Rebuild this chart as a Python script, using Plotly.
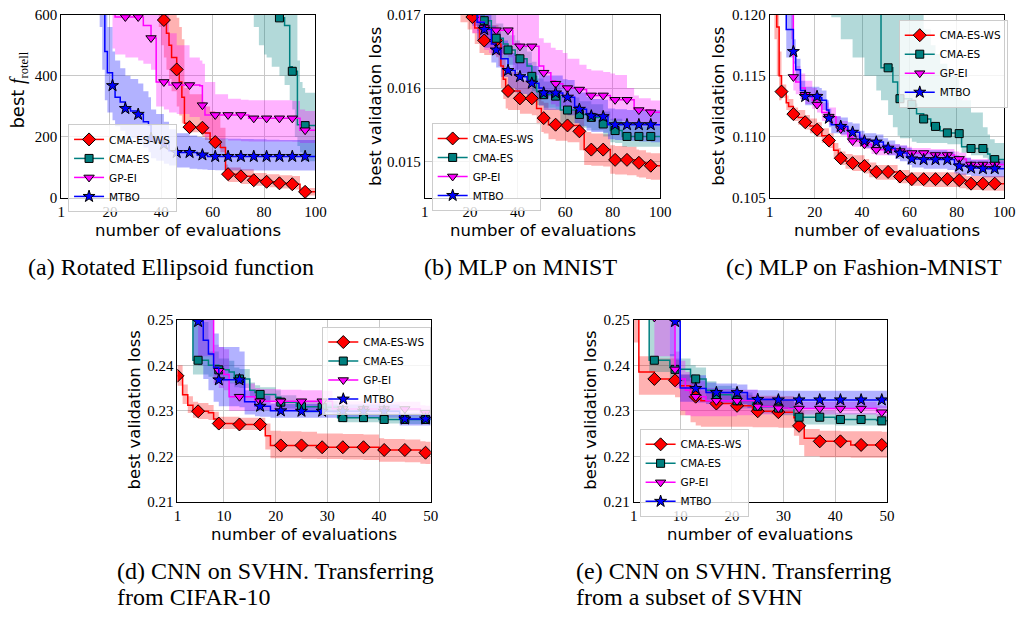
import plotly.graph_objects as go

# ---------------- data ----------------
MARKS_100 = [1, 6, 11, 16, 21, 26, 31, 36, 41, 46, 51, 56, 61, 66, 71, 76, 81, 86, 91, 96]
MARKS_50 = [1, 5, 9, 13, 17, 21, 25, 29, 33, 37, 41, 45, 49]

# (a) Rotated Ellipsoid
A_WS_X = [1, 6, 11, 16, 21, 26, 31, 36, 39, 40, 41, 42, 43, 44, 46, 47, 48, 49, 51, 56, 57, 59, 61, 63, 65, 66, 71, 76, 81, 86, 91, 94, 96, 100]
A_WS_Y = [3000, 2500, 2100, 1800, 1500, 1250, 1000, 800, 680, 620, 583, 540, 500, 460, 421, 380, 330, 245, 232, 230, 213, 192, 183, 165, 92, 78, 71, 58, 53, 48, 45, 20, 20, 18]
A_WS_LO = [2500, 2100, 1800, 1500, 1200, 1000, 850, 700, 560, 500, 460, 420, 390, 350, 300, 270, 245, 225, 215, 200, 190, 178, 165, 150, 70, 52, 46, 40, 35, 31, 28, 10, 8, 7]
A_WS_HI = [3500, 3000, 2500, 2200, 1800, 1500, 1200, 950, 800, 760, 720, 690, 660, 630, 590, 560, 520, 360, 340, 315, 300, 285, 272, 230, 110, 100, 94, 82, 78, 74, 72, 35, 33, 32]

A_ES_X = [1, 6, 11, 16, 21, 26, 31, 36, 41, 46, 51, 56, 61, 66, 71, 73, 76, 78, 80, 81, 83, 86, 88, 90, 91, 92, 93, 94, 95, 96, 100]
A_ES_Y = [9000, 8000, 7000, 6000, 5000, 4200, 3600, 3100, 2600, 2200, 1900, 1600, 1350, 1150, 1000, 950, 880, 820, 760, 740, 700, 590, 565, 430, 415, 415, 240, 240, 238, 237, 237]
A_ES_LO = [7000, 6000, 5000, 4000, 3000, 2500, 2000, 1600, 1300, 1000, 850, 760, 700, 650, 610, 600, 560, 500, 470, 460, 430, 400, 370, 320, 290, 200, 170, 150, 130, 120, 110]
A_ES_HI = [12000, 10000, 9000, 8000, 7000, 6000, 5000, 4500, 4000, 3500, 3000, 2600, 2200, 1900, 1700, 1600, 1500, 1400, 1300, 1250, 1150, 1000, 900, 800, 760, 720, 450, 380, 360, 345, 340]

A_GP_X = [1, 6, 11, 16, 21, 22, 26, 31, 33, 36, 38, 41, 43, 46, 51, 55, 56, 57, 61, 66, 71, 74, 76, 81, 86, 91, 94, 96, 100]
A_GP_Y = [3000, 2000, 1400, 900, 640, 593, 593, 593, 565, 524, 380, 380, 370, 370, 370, 368, 304, 272, 272, 272, 272, 261, 261, 261, 261, 261, 222, 222, 222]
A_GP_LO = [2000, 1400, 1000, 700, 490, 470, 460, 450, 440, 420, 300, 290, 280, 275, 265, 255, 230, 200, 192, 188, 186, 185, 185, 185, 185, 184, 180, 180, 180]
A_GP_HI = [4000, 3000, 2000, 1400, 900, 800, 760, 720, 700, 680, 640, 600, 540, 500, 460, 450, 440, 380, 340, 325, 322, 320, 320, 320, 320, 318, 290, 285, 280]

A_MT_X = [1, 6, 11, 16, 17, 18, 19, 21, 22, 24, 26, 28, 31, 33, 35, 36, 38, 41, 43, 46, 51, 54, 56, 58, 61, 66, 71, 76, 81, 86, 91, 96, 100]
A_MT_Y = [3000, 1800, 1200, 800, 620, 480, 410, 368, 330, 314, 293, 285, 274, 250, 240, 195, 190, 176, 155, 149, 149, 141, 141, 136, 136, 136, 136, 136, 136, 136, 136, 136, 136]
A_MT_LO = [2000, 1200, 800, 560, 420, 320, 280, 255, 235, 220, 205, 195, 182, 165, 150, 130, 122, 112, 106, 100, 96, 94, 93, 92, 91, 90, 90, 90, 90, 90, 90, 90, 90]
A_MT_HI = [4000, 2400, 1600, 1000, 800, 650, 560, 480, 450, 425, 400, 390, 375, 350, 330, 290, 275, 250, 225, 212, 205, 200, 198, 196, 195, 194, 193, 192, 191, 190, 190, 190, 190]

# (b) MLP on MNIST
B_WS_X = [1, 6, 11, 16, 19, 21, 22, 24, 26, 31, 32, 33, 34, 35, 36, 41, 46, 48, 50, 51, 53, 56, 61, 66, 68, 71, 76, 79, 81, 86, 90, 91, 94, 96, 100]
B_WS_Y = [0.0185, 0.0180, 0.0176, 0.01725, 0.01705, 0.01697, 0.01682, 0.01668, 0.01665, 0.01665, 0.01660, 0.01630, 0.01612, 0.01598, 0.01596, 0.01586, 0.01586, 0.01572, 0.01559, 0.01559, 0.01550, 0.01550, 0.01549, 0.01541, 0.01516, 0.01516, 0.01516, 0.01502, 0.01502, 0.01502, 0.01498, 0.01498, 0.01494, 0.01494, 0.01494]
B_WS_LO = [0.0180, 0.0175, 0.0171, 0.01690, 0.01680, 0.01675, 0.01660, 0.01648, 0.01645, 0.01642, 0.01630, 0.01600, 0.01585, 0.01572, 0.01570, 0.01565, 0.01563, 0.01550, 0.01540, 0.01538, 0.01530, 0.01528, 0.01526, 0.01515, 0.01495, 0.01494, 0.01493, 0.01483, 0.01482, 0.01481, 0.01479, 0.01478, 0.01476, 0.01475, 0.01474]
B_WS_HI = [0.0190, 0.0185, 0.0181, 0.01760, 0.01730, 0.01720, 0.01705, 0.01690, 0.01686, 0.01686, 0.01682, 0.01660, 0.01640, 0.01625, 0.01622, 0.01610, 0.01608, 0.01595, 0.01582, 0.01580, 0.01572, 0.01571, 0.01570, 0.01565, 0.01540, 0.01538, 0.01537, 0.01522, 0.01521, 0.01520, 0.01516, 0.01515, 0.01512, 0.01511, 0.01510]

B_ES_X = [1, 6, 11, 16, 21, 23, 26, 29, 31, 34, 36, 39, 41, 44, 46, 48, 51, 56, 58, 61, 66, 71, 76, 79, 81, 84, 86, 91, 96, 100]
B_ES_Y = [0.0185, 0.0180, 0.0176, 0.01730, 0.01712, 0.01698, 0.01692, 0.01680, 0.01668, 0.01660, 0.01652, 0.01645, 0.01640, 0.01630, 0.01616, 0.01595, 0.01591, 0.01589, 0.01570, 0.01570, 0.01564, 0.01560, 0.01551, 0.01542, 0.01542, 0.01534, 0.01534, 0.01534, 0.01534, 0.01534]
B_ES_LO = [0.0180, 0.0175, 0.0171, 0.01705, 0.01690, 0.01678, 0.01672, 0.01660, 0.01648, 0.01640, 0.01632, 0.01625, 0.01620, 0.01610, 0.01596, 0.01577, 0.01573, 0.01571, 0.01553, 0.01552, 0.01546, 0.01542, 0.01534, 0.01526, 0.01525, 0.01520, 0.01520, 0.01520, 0.01520, 0.01520]
B_ES_HI = [0.0190, 0.0185, 0.0181, 0.01760, 0.01735, 0.01720, 0.01712, 0.01700, 0.01688, 0.01680, 0.01672, 0.01665, 0.01660, 0.01650, 0.01636, 0.01613, 0.01609, 0.01607, 0.01588, 0.01587, 0.01582, 0.01578, 0.01568, 0.01558, 0.01558, 0.01549, 0.01549, 0.01548, 0.01548, 0.01548]

B_GP_X = [1, 6, 11, 16, 21, 24, 26, 28, 31, 36, 38, 41, 46, 49, 51, 54, 56, 59, 61, 66, 69, 71, 76, 79, 81, 86, 89, 91, 96, 100]
B_GP_Y = [0.0185, 0.0180, 0.0176, 0.01730, 0.01705, 0.01690, 0.01682, 0.01679, 0.01679, 0.01679, 0.01660, 0.01657, 0.01657, 0.01630, 0.01621, 0.01610, 0.01606, 0.01601, 0.01600, 0.01598, 0.01591, 0.01590, 0.01590, 0.01584, 0.01584, 0.01584, 0.01571, 0.01570, 0.01567, 0.01566]
B_GP_LO = [0.0180, 0.0175, 0.0171, 0.01700, 0.01675, 0.01660, 0.01652, 0.01648, 0.01645, 0.01642, 0.01625, 0.01620, 0.01618, 0.01595, 0.01588, 0.01578, 0.01575, 0.01570, 0.01568, 0.01566, 0.01562, 0.01561, 0.01560, 0.01556, 0.01555, 0.01554, 0.01550, 0.01549, 0.01548, 0.01548]
B_GP_HI = [0.0190, 0.0185, 0.0181, 0.01770, 0.01740, 0.01725, 0.01718, 0.01715, 0.01712, 0.01710, 0.01705, 0.01702, 0.01700, 0.01668, 0.01662, 0.01655, 0.01652, 0.01648, 0.01640, 0.01632, 0.01626, 0.01624, 0.01622, 0.01620, 0.01618, 0.01600, 0.01590, 0.01586, 0.01583, 0.01582]

B_MT_X = [1, 6, 11, 16, 21, 23, 26, 29, 31, 33, 36, 39, 41, 44, 46, 49, 51, 56, 59, 61, 64, 66, 69, 71, 76, 78, 81, 86, 91, 96, 100]
B_MT_Y = [0.0185, 0.0180, 0.0176, 0.01730, 0.01710, 0.01690, 0.01680, 0.01660, 0.01652, 0.01640, 0.01624, 0.01618, 0.016156, 0.01610, 0.016067, 0.01600, 0.015933, 0.015933, 0.01588, 0.015876, 0.01575, 0.01571, 0.01565, 0.01562, 0.01561, 0.01550, 0.01550, 0.01550, 0.01550, 0.01550, 0.01550]
B_MT_LO = [0.0180, 0.0175, 0.0171, 0.01700, 0.01685, 0.01665, 0.01655, 0.01635, 0.01628, 0.01615, 0.01600, 0.01594, 0.01592, 0.01586, 0.01583, 0.01576, 0.01570, 0.01570, 0.01565, 0.01563, 0.01552, 0.01548, 0.01542, 0.01540, 0.01539, 0.01530, 0.01529, 0.01528, 0.01527, 0.01526, 0.01526]
B_MT_HI = [0.0190, 0.0185, 0.0181, 0.01760, 0.01735, 0.01715, 0.01705, 0.01685, 0.01676, 0.01665, 0.01648, 0.01642, 0.01640, 0.01634, 0.01630, 0.01624, 0.01617, 0.01617, 0.01612, 0.01611, 0.01598, 0.01594, 0.01588, 0.01585, 0.01584, 0.01572, 0.01571, 0.01570, 0.01570, 0.01570, 0.01570]

# (c) MLP on Fashion-MNIST
C_WS_X = [1, 3, 4, 5, 6, 8, 9, 11, 13, 16, 18, 21, 23, 26, 28, 30, 31, 33, 36, 41, 43, 46, 51, 55, 56, 60, 61, 66, 71, 76, 81, 84, 86, 91, 96, 100]
C_WS_Y = [0.1400, 0.1220, 0.1190, 0.1150, 0.11371, 0.1128, 0.1125, 0.11187, 0.1116, 0.1112, 0.1109, 0.11059, 0.1101, 0.10971, 0.1089, 0.1085, 0.10825, 0.1080, 0.10785, 0.10761, 0.1073, 0.10713, 0.10713, 0.10676, 0.10676, 0.10654, 0.10654, 0.10654, 0.10654, 0.10654, 0.10646, 0.10617, 0.10617, 0.10617, 0.10617, 0.10617]
C_WS_LO = [0.1300, 0.1180, 0.1150, 0.1130, 0.11320, 0.1122, 0.1119, 0.1113, 0.1110, 0.1106, 0.1103, 0.1100, 0.1095, 0.1091, 0.1083, 0.1079, 0.1077, 0.1074, 0.1072, 0.1070, 0.1067, 0.1065, 0.1065, 0.1062, 0.1062, 0.1060, 0.1060, 0.1059, 0.1059, 0.1059, 0.1058, 0.10570, 0.10565, 0.10562, 0.10560, 0.10560]
C_WS_HI = [0.1500, 0.1260, 0.1230, 0.1170, 0.11430, 0.1134, 0.1131, 0.1124, 0.1122, 0.1118, 0.1115, 0.1112, 0.1107, 0.1103, 0.1095, 0.1091, 0.1088, 0.1086, 0.1085, 0.1082, 0.1079, 0.1077, 0.1077, 0.1073, 0.1073, 0.1071, 0.1071, 0.1071, 0.1071, 0.1071, 0.1070, 0.1068, 0.1068, 0.1068, 0.1068, 0.1068]

C_ES_X = [1, 6, 11, 16, 21, 26, 27, 31, 36, 41, 46, 48, 51, 53, 55, 56, 61, 63, 66, 69, 71, 73, 76, 81, 82, 86, 91, 93, 94, 96, 100]
C_ES_Y = [0.200, 0.180, 0.165, 0.155, 0.145, 0.138, 0.136, 0.132, 0.128, 0.125, 0.1225, 0.11566, 0.11566, 0.1145, 0.11313, 0.11313, 0.11267, 0.1119, 0.11147, 0.1109, 0.11086, 0.1105, 0.11033, 0.11027, 0.1092, 0.10905, 0.10905, 0.1086, 0.1082, 0.10814, 0.10814]
C_ES_LO = [0.170, 0.150, 0.140, 0.132, 0.126, 0.121, 0.1198, 0.1180, 0.1165, 0.1150, 0.1138, 0.1130, 0.1118, 0.1108, 0.1101, 0.1099, 0.1096, 0.1095, 0.1095, 0.1095, 0.1095, 0.1095, 0.1094, 0.1094, 0.1087, 0.1085, 0.1083, 0.1081, 0.1079, 0.1078, 0.1077]
C_ES_HI = [0.240, 0.220, 0.200, 0.185, 0.170, 0.160, 0.158, 0.150, 0.145, 0.140, 0.135, 0.130, 0.128, 0.126, 0.124, 0.123, 0.1210, 0.1200, 0.1188, 0.1175, 0.1168, 0.1160, 0.1150, 0.1140, 0.1130, 0.1120, 0.1108, 0.1102, 0.1098, 0.1095, 0.1094]

C_GP_X = [1, 6, 10, 11, 12, 14, 16, 19, 21, 23, 26, 29, 31, 34, 36, 41, 44, 46, 51, 56, 59, 61, 66, 69, 71, 76, 79, 81, 84, 86, 91, 96, 100]
C_GP_Y = [0.160, 0.135, 0.1210, 0.11491, 0.1145, 0.1140, 0.11345, 0.1130, 0.11265, 0.1120, 0.11166, 0.1110, 0.11065, 0.1100, 0.10966, 0.1094, 0.1090, 0.10894, 0.10894, 0.10884, 0.1087, 0.10868, 0.10868, 0.10855, 0.10852, 0.10852, 0.1083, 0.1082, 0.10780, 0.10774, 0.10774, 0.10774, 0.10774]
C_GP_LO = [0.150, 0.128, 0.1180, 0.1138, 0.1135, 0.1131, 0.1127, 0.1123, 0.1120, 0.1113, 0.1110, 0.1104, 0.1101, 0.1095, 0.1092, 0.1090, 0.1086, 0.1085, 0.1085, 0.1084, 0.1083, 0.1083, 0.1083, 0.1082, 0.1081, 0.1081, 0.1079, 0.1078, 0.1075, 0.1074, 0.1074, 0.1074, 0.1074]
C_GP_HI = [0.180, 0.145, 0.1240, 0.1162, 0.1158, 0.1152, 0.1146, 0.1140, 0.1136, 0.1128, 0.1124, 0.1117, 0.1113, 0.1106, 0.1102, 0.1099, 0.1095, 0.1094, 0.1094, 0.1093, 0.1092, 0.1091, 0.1091, 0.1090, 0.1090, 0.1090, 0.1088, 0.1087, 0.1083, 0.1082, 0.1082, 0.1082, 0.1082]

C_MT_X = [1, 6, 8, 11, 12, 14, 16, 21, 22, 23, 25, 26, 27, 31, 34, 36, 39, 41, 46, 49, 51, 54, 56, 59, 61, 66, 71, 76, 79, 81, 86, 91, 96, 100]
C_MT_Y = [0.160, 0.130, 0.1188, 0.11699, 0.1155, 0.1138, 0.11331, 0.11331, 0.1132, 0.1130, 0.1122, 0.11153, 0.1110, 0.11086, 0.1105, 0.11038, 0.1099, 0.10966, 0.10958, 0.1093, 0.10908, 0.1088, 0.10868, 0.1084, 0.1082, 0.10814, 0.10814, 0.10814, 0.1078, 0.10761, 0.10745, 0.1074, 0.1074, 0.1074]
C_MT_LO = [0.150, 0.122, 0.1165, 0.1160, 0.1146, 0.1131, 0.1126, 0.1126, 0.1125, 0.1122, 0.1114, 0.1108, 0.1103, 0.1102, 0.1099, 0.1098, 0.1093, 0.1091, 0.1090, 0.1087, 0.1085, 0.1082, 0.1080, 0.1077, 0.1075, 0.1074, 0.1074, 0.1073, 0.1070, 0.1069, 0.1068, 0.1067, 0.1067, 0.1067]
C_MT_HI = [0.180, 0.140, 0.1210, 0.1180, 0.1164, 0.1146, 0.1141, 0.1141, 0.1140, 0.1138, 0.1130, 0.1123, 0.1117, 0.1116, 0.1112, 0.1111, 0.1105, 0.1103, 0.1102, 0.1099, 0.1097, 0.1094, 0.1093, 0.1091, 0.1089, 0.1089, 0.1089, 0.1088, 0.1085, 0.1083, 0.1081, 0.1081, 0.1080, 0.1080]

# (d) CNN on SVHN, transferring from CIFAR-10
D_WS_X = [1, 2, 3, 4, 5, 7, 8, 9, 13, 17, 18, 19, 21, 25, 28, 29, 33, 37, 40, 41, 45, 48, 49, 50]
D_WS_Y = [0.2377, 0.2335, 0.2312, 0.2302, 0.2299, 0.2296, 0.2282, 0.2272, 0.2270, 0.2270, 0.2245, 0.2224, 0.2224, 0.2224, 0.2220, 0.2220, 0.2220, 0.2220, 0.2214, 0.2214, 0.2214, 0.2208, 0.2208, 0.2208]
D_WS_LO = [0.2355, 0.2315, 0.2295, 0.2285, 0.2282, 0.2280, 0.2265, 0.2260, 0.2258, 0.2258, 0.2215, 0.2196, 0.2196, 0.2195, 0.2194, 0.2194, 0.2193, 0.2192, 0.2188, 0.2188, 0.2187, 0.2184, 0.2183, 0.2183]
D_WS_HI = [0.2400, 0.2358, 0.2332, 0.2320, 0.2317, 0.2313, 0.2298, 0.2287, 0.2285, 0.2285, 0.2272, 0.2256, 0.2255, 0.2254, 0.2250, 0.2250, 0.2249, 0.2248, 0.2240, 0.2238, 0.2237, 0.2233, 0.2232, 0.2232]

D_ES_X = [1, 4, 5, 7, 9, 11, 12, 13, 15, 16, 17, 20, 21, 24, 25, 29, 32, 33, 37, 40, 41, 45, 49, 50]
D_ES_Y = [0.2700, 0.2411, 0.2411, 0.2400, 0.2390, 0.2385, 0.2372, 0.2370, 0.2345, 0.2340, 0.2336, 0.2330, 0.2319, 0.2310, 0.2309, 0.2308, 0.2285, 0.2285, 0.2285, 0.2281, 0.2281, 0.2281, 0.2281, 0.2281]
D_ES_LO = [0.2600, 0.2380, 0.2380, 0.2375, 0.2365, 0.2360, 0.2352, 0.2350, 0.2330, 0.2325, 0.2322, 0.2315, 0.2305, 0.2298, 0.2296, 0.2295, 0.2276, 0.2275, 0.2275, 0.2272, 0.2272, 0.2271, 0.2271, 0.2271]
D_ES_HI = [0.2800, 0.2500, 0.2495, 0.2430, 0.2415, 0.2410, 0.2395, 0.2392, 0.2362, 0.2356, 0.2352, 0.2345, 0.2334, 0.2324, 0.2322, 0.2321, 0.2296, 0.2295, 0.2295, 0.2291, 0.2291, 0.2291, 0.2291, 0.2291]

D_GP_X = [1, 5, 7, 8, 9, 10, 11, 13, 16, 17, 21, 25, 29, 31, 33, 37, 41, 45, 48, 49, 50]
D_GP_Y = [0.2700, 0.2505, 0.2505, 0.2395, 0.2388, 0.2380, 0.2331, 0.2331, 0.2322, 0.2321, 0.2321, 0.2321, 0.2321, 0.2305, 0.2304, 0.2304, 0.2304, 0.2304, 0.2297, 0.2296, 0.2296]
D_GP_LO = [0.2600, 0.2420, 0.2420, 0.2360, 0.2350, 0.2345, 0.2300, 0.2300, 0.2302, 0.2302, 0.2302, 0.2302, 0.2302, 0.2292, 0.2291, 0.2291, 0.2291, 0.2290, 0.2286, 0.2285, 0.2285]
D_GP_HI = [0.2800, 0.2600, 0.2600, 0.2445, 0.2440, 0.2435, 0.2362, 0.2360, 0.2350, 0.2348, 0.2346, 0.2345, 0.2344, 0.2322, 0.2321, 0.2320, 0.2320, 0.2320, 0.2312, 0.2311, 0.2311]

D_MT_X = [1, 4, 5, 6, 7, 8, 9, 13, 14, 16, 17, 19, 21, 25, 29, 33, 37, 41, 44, 45, 49, 50]
D_MT_Y = [0.2700, 0.2520, 0.2496, 0.2455, 0.2425, 0.2395, 0.2368, 0.2368, 0.2320, 0.2311, 0.2310, 0.2300, 0.2300, 0.2299, 0.2299, 0.2299, 0.2299, 0.2299, 0.2282, 0.2282, 0.2282, 0.2282]
D_MT_LO = [0.2600, 0.2420, 0.2400, 0.2370, 0.2345, 0.2320, 0.2310, 0.2308, 0.2292, 0.2288, 0.2287, 0.2285, 0.2285, 0.2285, 0.2285, 0.2285, 0.2285, 0.2285, 0.2268, 0.2268, 0.2268, 0.2268]
D_MT_HI = [0.2800, 0.2600, 0.2600, 0.2530, 0.2500, 0.2470, 0.2440, 0.2430, 0.2345, 0.2335, 0.2333, 0.2316, 0.2315, 0.2315, 0.2314, 0.2314, 0.2314, 0.2314, 0.2296, 0.2296, 0.2296, 0.2296]

# (e) CNN on SVHN, transferring from a subset of SVHN
E_WS_X = [1, 2, 5, 9, 10, 12, 13, 14, 17, 21, 24, 25, 29, 32, 33, 34, 37, 41, 43, 45, 49, 50]
E_WS_Y = [0.2550, 0.2385, 0.2370, 0.2367, 0.2355, 0.2340, 0.2331, 0.2322, 0.2316, 0.2311, 0.2300, 0.2299, 0.2297, 0.2285, 0.2267, 0.2240, 0.2233, 0.2233, 0.2225, 0.2225, 0.2225, 0.2225]
E_WS_LO = [0.2450, 0.2335, 0.2335, 0.2330, 0.2290, 0.2275, 0.2268, 0.2265, 0.2265, 0.2265, 0.2264, 0.2264, 0.2263, 0.2245, 0.2225, 0.2200, 0.2198, 0.2198, 0.2197, 0.2197, 0.2197, 0.2197]
E_WS_HI = [0.2650, 0.2420, 0.2415, 0.2412, 0.2380, 0.2365, 0.2355, 0.2345, 0.2340, 0.2335, 0.2333, 0.2333, 0.2332, 0.2318, 0.2300, 0.2260, 0.2256, 0.2255, 0.2255, 0.2255, 0.2254, 0.2254]

E_ES_X = [1, 4, 5, 8, 9, 12, 13, 15, 17, 20, 21, 24, 25, 29, 32, 33, 37, 40, 41, 45, 48, 49, 50]
E_ES_Y = [0.2700, 0.2411, 0.2411, 0.2395, 0.2391, 0.2375, 0.2370, 0.2345, 0.2335, 0.2330, 0.2322, 0.2312, 0.2310, 0.2306, 0.2290, 0.2286, 0.2286, 0.2282, 0.2281, 0.2281, 0.2279, 0.2278, 0.2278]
E_ES_LO = [0.2600, 0.2385, 0.2385, 0.2370, 0.2365, 0.2352, 0.2350, 0.2325, 0.2320, 0.2315, 0.2305, 0.2296, 0.2294, 0.2290, 0.2274, 0.2270, 0.2270, 0.2268, 0.2268, 0.2268, 0.2267, 0.2267, 0.2267]
E_ES_HI = [0.2800, 0.2500, 0.2500, 0.2425, 0.2415, 0.2400, 0.2395, 0.2365, 0.2355, 0.2350, 0.2340, 0.2330, 0.2328, 0.2324, 0.2306, 0.2300, 0.2300, 0.2296, 0.2295, 0.2295, 0.2293, 0.2292, 0.2292]

E_GP_X = [1, 5, 8, 9, 10, 11, 12, 13, 15, 17, 21, 25, 29, 31, 33, 37, 41, 45, 48, 49, 50]
E_GP_Y = [0.2700, 0.2505, 0.2505, 0.2391, 0.2370, 0.2345, 0.2335, 0.2331, 0.2322, 0.2322, 0.2322, 0.2310, 0.2306, 0.2305, 0.2305, 0.2305, 0.2305, 0.2305, 0.2298, 0.2297, 0.2297]
E_GP_LO = [0.2600, 0.2420, 0.2400, 0.2350, 0.2300, 0.2290, 0.2288, 0.2288, 0.2288, 0.2288, 0.2290, 0.2292, 0.2292, 0.2292, 0.2292, 0.2292, 0.2292, 0.2292, 0.2287, 0.2286, 0.2286]
E_GP_HI = [0.2800, 0.2600, 0.2600, 0.2430, 0.2410, 0.2385, 0.2370, 0.2365, 0.2350, 0.2348, 0.2346, 0.2330, 0.2322, 0.2321, 0.2320, 0.2320, 0.2320, 0.2320, 0.2312, 0.2311, 0.2311]

E_MT_X = [1, 5, 8, 9, 10, 13, 15, 17, 21, 23, 25, 29, 33, 37, 41, 45, 49, 50]
E_MT_Y = [0.2700, 0.2600, 0.2520, 0.2496, 0.2350, 0.2349, 0.2340, 0.2340, 0.2340, 0.2326, 0.2325, 0.2324, 0.2324, 0.2324, 0.2324, 0.2324, 0.2324, 0.2324]
E_MT_LO = [0.2600, 0.2500, 0.2420, 0.2390, 0.2320, 0.2318, 0.2315, 0.2315, 0.2315, 0.2306, 0.2306, 0.2305, 0.2305, 0.2305, 0.2305, 0.2305, 0.2305, 0.2305]
E_MT_HI = [0.2800, 0.2700, 0.2600, 0.2600, 0.2380, 0.2378, 0.2362, 0.2360, 0.2358, 0.2346, 0.2345, 0.2344, 0.2344, 0.2344, 0.2344, 0.2344, 0.2344, 0.2344]

SERIES_NAMES = ["CMA-ES-WS", "CMA-ES", "GP-EI", "MTBO"]
CAPTIONS = ["(a) Rotated Ellipsoid function", "(b) MLP on MNIST", "(c) MLP on Fashion-MNIST",
            "(d) CNN on SVHN. Transferring", "from CIFAR-10",
            "(e) CNN on SVHN. Transferring", "from a subset of SVHN"]
X_TITLE = "number of evaluations"
Y_TITLES = ["best <span style=\"font-family:Liberation Serif;font-size:20px\"><i>f</i></span>"
            "<span style=\"font-family:Liberation Serif;font-size:18px\"><sub>rotell</sub></span>",
            "best validation loss", "best validation loss", "best validation loss", "best validation loss"]

# ---------------- styling ----------------
W, H = 1029, 619
STYLES = [
    dict(color="#ff0000", fill="rgba(255,0,0,0.3)", symbol="diamond", size=10),
    dict(color="#008080", fill="rgba(0,128,128,0.3)", symbol="square", size=8),
    dict(color="#ff00ff", fill="rgba(255,0,255,0.3)", symbol="triangle-down", size=9),
    dict(color="#0000ff", fill="rgba(0,0,255,0.3)", symbol="star", size=9),
]

PANELS = [
    dict(data=[(A_WS_X, A_WS_Y, A_WS_LO, A_WS_HI), (A_ES_X, A_ES_Y, A_ES_LO, A_ES_HI),
               (A_GP_X, A_GP_Y, A_GP_LO, A_GP_HI), (A_MT_X, A_MT_Y, A_MT_LO, A_MT_HI)],
         marks=MARKS_100, px=(58, 316, 7, 195), xr=[1, 100], yr=[0, 600],
         xt=[1, 20, 40, 60, 80, 100], yt=[0, 200, 400, 600], ytt=["0", "200", "400", "600"],
         leg=(65, 119), xtitle=(187, 228), ytitle=(15, 84)),
    dict(data=[(B_WS_X, B_WS_Y, B_WS_LO, B_WS_HI), (B_ES_X, B_ES_Y, B_ES_LO, B_ES_HI),
               (B_GP_X, B_GP_Y, B_GP_LO, B_GP_HI), (B_MT_X, B_MT_Y, B_MT_LO, B_MT_HI)],
         marks=MARKS_100, px=(427, 666, 7, 195), xr=[1, 100], yr=[0.0145, 0.017],
         xt=[1, 20, 40, 60, 80, 100], yt=[0.015, 0.016, 0.017], ytt=["0.015", "0.016", "0.017"],
         leg=(434, 118), xtitle=(547, 228), ytitle=(377, 101)),
    dict(data=[(C_WS_X, C_WS_Y, C_WS_LO, C_WS_HI), (C_ES_X, C_ES_Y, C_ES_LO, C_ES_HI),
               (C_GP_X, C_GP_Y, C_GP_LO, C_GP_HI), (C_MT_X, C_MT_Y, C_MT_LO, C_MT_HI)],
         marks=MARKS_100, px=(777, 1015, 7, 195), xr=[1, 100], yr=[0.105, 0.120],
         xt=[1, 20, 40, 60, 80, 100], yt=[0.105, 0.110, 0.115, 0.120], ytt=["0.105", "0.110", "0.115", "0.120"],
         leg=(908, 12), xtitle=(896, 228), ytitle=(725, 101)),
    dict(data=[(D_WS_X, D_WS_Y, D_WS_LO, D_WS_HI), (D_ES_X, D_ES_Y, D_ES_LO, D_ES_HI),
               (D_GP_X, D_GP_Y, D_GP_LO, D_GP_HI), (D_MT_X, D_MT_Y, D_MT_LO, D_MT_HI)],
         marks=MARKS_50, px=(176, 433, 320, 507), xr=[1, 50], yr=[0.21, 0.25],
         xt=[1, 10, 20, 30, 40, 50], yt=[0.21, 0.22, 0.23, 0.24, 0.25], ytt=["0.21", "0.22", "0.23", "0.24", "0.25"],
         leg=(323, 327), xtitle=(304, 540), ytitle=(132, 413)),
    dict(data=[(E_WS_X, E_WS_Y, E_WS_LO, E_WS_HI), (E_ES_X, E_ES_Y, E_ES_LO, E_ES_HI),
               (E_GP_X, E_GP_Y, E_GP_LO, E_GP_HI), (E_MT_X, E_MT_Y, E_MT_LO, E_MT_HI)],
         marks=MARKS_50, px=(639, 896, 320, 507), xr=[1, 50], yr=[0.21, 0.25],
         xt=[1, 10, 20, 30, 40, 50], yt=[0.21, 0.22, 0.23, 0.24, 0.25], ytt=["0.21", "0.22", "0.23", "0.24", "0.25"],
         leg=(645, 432), xtitle=(767, 540), ytitle=(595, 413)),
]

fig = go.Figure()
layout = dict(width=W, height=H, margin=dict(l=0, r=0, t=0, b=0), autosize=False,
              paper_bgcolor="white", plot_bgcolor="white", showlegend=True, annotations=[])

TICK_FONT = dict(family="Liberation Serif", size=15, color="black")
SANS = "DejaVu Sans"

for i, p in enumerate(PANELS, start=1):
    xa = "x" if i == 1 else f"x{i}"
    ya = "y" if i == 1 else f"y{i}"
    leg = "legend" if i == 1 else f"legend{i}"
    # bands
    for (X, Y, LO, HI), st in zip(p["data"], STYLES):
        fig.add_trace(go.Scatter(x=X, y=LO, mode="lines", line=dict(width=0, shape="hv"),
                                 hoverinfo="skip", showlegend=False, xaxis=xa, yaxis=ya))
        fig.add_trace(go.Scatter(x=X, y=HI, mode="lines", line=dict(width=0, shape="hv"),
                                 fill="tonexty", fillcolor=st["fill"], hoverinfo="skip",
                                 showlegend=False, xaxis=xa, yaxis=ya))
    # lines + markers
    for (X, Y, LO, HI), st, nm in zip(p["data"], STYLES, SERIES_NAMES):
        fig.add_trace(go.Scatter(x=X, y=Y, mode="lines", line=dict(color=st["color"], width=1.5, shape="hv"),
                                 showlegend=False, xaxis=xa, yaxis=ya))
        mx = [x for x in X if x in p["marks"]]
        my = [y for x, y in zip(X, Y) if x in p["marks"]]
        fig.add_trace(go.Scatter(x=mx, y=my, mode="markers",
                                 marker=dict(symbol=st["symbol"], size=st["size"], color=st["color"],
                                             line=dict(color="black", width=1)),
                                 showlegend=False, xaxis=xa, yaxis=ya))
    # legend entries
    for st, nm in zip(STYLES, SERIES_NAMES):
        fig.add_trace(go.Scatter(x=[None], y=[None], mode="lines+markers", name=nm,
                                 line=dict(color=st["color"], width=1.5),
                                 marker=dict(symbol=st["symbol"], size=st["size"], color=st["color"],
                                             line=dict(color="black", width=1)),
                                 legend=leg, xaxis=xa, yaxis=ya))

    l, r, t, b = p["px"]
    axcommon = dict(showline=True, linecolor="black", linewidth=1, mirror=True, ticks="",
                    showgrid=True, gridcolor="#c8c8c8", gridwidth=1, zeroline=False,
                    tickfont=TICK_FONT)
    layout["xaxis" if i == 1 else f"xaxis{i}"] = dict(
        domain=[l / W, r / W], anchor=ya, range=p["xr"], tickvals=p["xt"],
        ticktext=[str(v) for v in p["xt"]], **axcommon)
    layout["yaxis" if i == 1 else f"yaxis{i}"] = dict(
        domain=[1 - b / H, 1 - t / H], anchor=xa, range=p["yr"], tickvals=p["yt"],
        ticktext=p["ytt"], **axcommon)
    lx, ly = p["leg"]
    layout[leg] = dict(x=lx / W, y=1 - ly / H, xanchor="left", yanchor="top", traceorder="normal",
                       bgcolor="rgba(255,255,255,0.8)", bordercolor="#cccccc", borderwidth=1,
                       font=dict(family=SANS, size=10.5, color="black"), tracegroupgap=0)
    # axis titles
    tx, ty = p["xtitle"]
    layout["annotations"].append(dict(x=tx / W, y=1 - ty / H, xref="paper", yref="paper",
                                      text=X_TITLE, showarrow=False, xanchor="center", yanchor="middle",
                                      font=dict(family=SANS, size=16.5, color="black")))
    yx, yy = p["ytitle"]
    layout["annotations"].append(dict(x=yx / W, y=1 - yy / H, xref="paper", yref="paper",
                                      text=Y_TITLES[i - 1], showarrow=False, textangle=-90,
                                      xanchor="center", yanchor="middle",
                                      font=dict(family=SANS, size=18 if i == 1 else 16.5, color="black")))

# captions
CAP_POS = [(22, 266), (424, 266), (731, 266), (113, 578), (113, 605), (578, 578), (578, 605)]
for txt, (cx, cy) in zip(CAPTIONS, CAP_POS):
    layout["annotations"].append(dict(x=cx / W, y=1 - cy / H, xref="paper", yref="paper", text=txt,
                                      showarrow=False, xanchor="left", yanchor="middle",
                                      font=dict(family="Liberation Serif", size=24, color="black")))

fig.update_layout(**layout)
fig.write_html("out.html", config={"displayModeBar": False},
               post_script="document.body.style.margin='0';document.body.style.overflow='hidden';")
